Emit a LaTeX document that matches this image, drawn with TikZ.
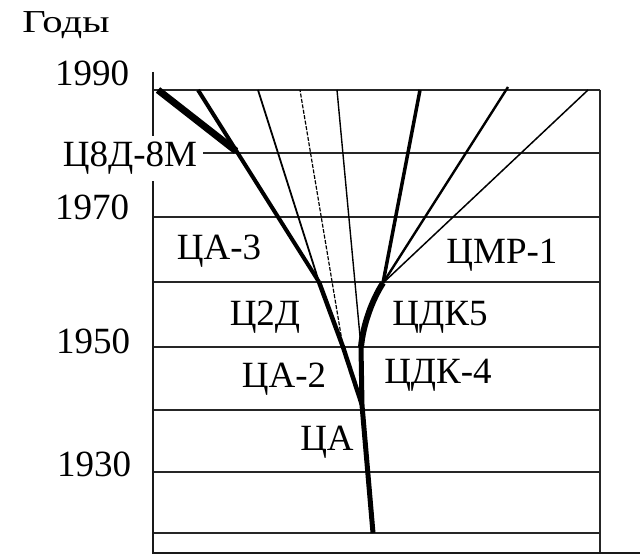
\documentclass[tikz,border=0pt]{standalone}
\usepackage{fontspec}
\setmainfont{Liberation Serif}
\begin{document}
\begin{tikzpicture}[x=1pt,y=-1pt,
  gridline/.style={line width=2pt, black!85},
  axisline/.style={line width=2.6pt, black!90},
  lbl/.style={font=\fontsize{37}{40}\selectfont, anchor=base, inner sep=0pt},
  branch/.style={line join=round, black},
]
\useasboundingbox (0,0) rectangle (640,556);
% grid
\foreach \yy in {90,153,217,282,347,410,472,533}
  \draw[gridline] (153,\yy) -- (600,\yy);
\coordinate (axtop) at (153,72);
\coordinate (axorig) at (153,553);
\coordinate (axright) at (640,553);
\coordinate (frtop) at (600,90);
\coordinate (frbot) at (600,553);
\draw[gridline] (frtop) -- (frbot);
\draw[axisline] (axtop) -- (axorig) -- (axright);
% key points
\coordinate (root) at (373,533);
\coordinate (fork) at (362,405);
\coordinate (L50) at (343,347);
\coordinate (L60) at (319,282);
\coordinate (A3top) at (198,90);
\coordinate (D8top) at (158,90);
\coordinate (D8j) at (236,151);
\coordinate (Mtop) at (258,90);
\coordinate (dtop) at (300,90);
\coordinate (ttop) at (337,90);
\coordinate (R50) at (361,347);
\coordinate (R60) at (383,283);
\coordinate (K5top) at (420,90);
\coordinate (Ptop) at (508,87);
\coordinate (M1top) at (588,90);
% branches
\draw[branch, line width=5pt] (root) -- (fork);
\draw[branch, line width=4.5pt] (fork) -- (L50) -- (L60);
\draw[branch, line width=4pt] (L60) -- (A3top);
\draw[branch, line width=7pt] (D8top) -- (D8j);
\draw[branch, line width=1.8pt] (L60) -- (Mtop);
\draw[branch, line width=1.2pt, dash pattern=on 4pt off 1.5pt] (L50) -- (dtop);
\draw[branch, line width=1.4pt] (R50) -- (ttop);
\draw[branch, line width=5pt] (fork) -- (R50);
\draw[branch, line width=6pt] (R50) .. controls (363,325) and (372,300) .. (R60);
\draw[branch, line width=3.5pt] (R60) -- (K5top);
\draw[branch, line width=2.4pt] (R60) -- (Ptop);
\draw[branch, line width=1.5pt] (R60) -- (M1top);
% labels
\node[lbl, font=\fontsize{32}{36}\selectfont] (goda) at (66,33) {\scalebox{1.27}[1]{Годы}};
\node[lbl] (y1990) at (92,86) {1990};
\node[lbl] (y1970) at (92,220) {1970};
\node[lbl] (y1950) at (93,353) {1950};
\node[lbl] (y1930) at (94,476) {1930};
\node[lbl, fill=white, inner xsep=6pt, inner ysep=6pt] (c8d) at (130,167) {Ц8Д-8М};
\node[lbl] (ca3) at (219,260) {ЦА-3};
\node[lbl] (cmr1) at (502,263) {ЦМР-1};
\node[lbl] (c2d) at (265,325) {Ц2Д};
\node[lbl] (cdk5) at (440,325) {ЦДК5};
\node[lbl] (ca2) at (284,387) {ЦА-2};
\node[lbl] (cdk4) at (438,383) {ЦДК-4};
\node[lbl] (ca) at (327,450) {ЦА};
\end{tikzpicture}
\end{document}
